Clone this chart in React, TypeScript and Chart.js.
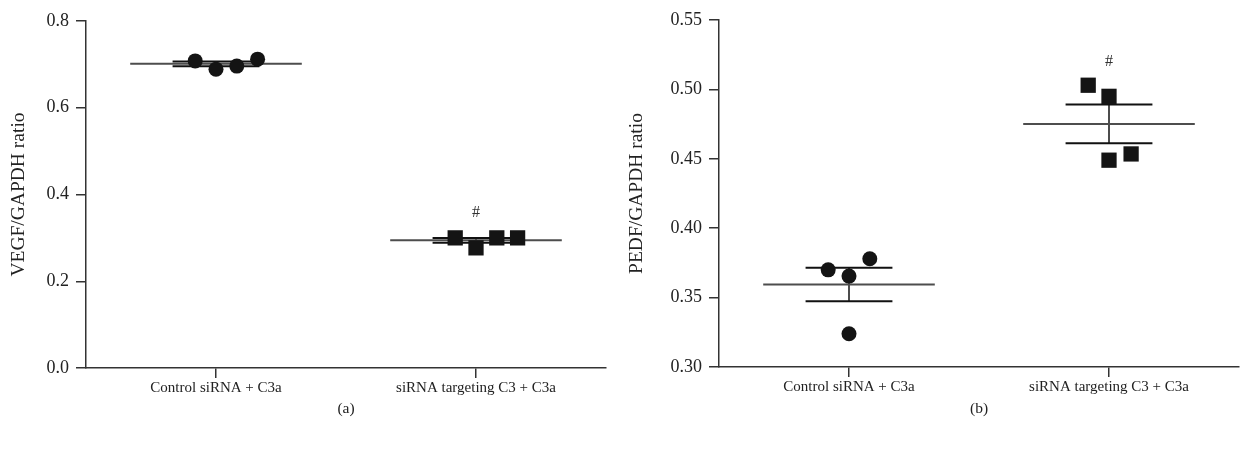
import React, { useEffect, useRef } from "react";
import { Chart, registerables } from "chart.js";

Chart.register(...registerables);

// ---------- data ----------
const categories = ["Control siRNA + C3a", "siRNA targeting C3 + C3a"];
const panelLetters = ["(a)", "(b)"];
const yTitles = ["VEGF/GAPDH ratio", "PEDF/GAPDH ratio"];

// Panel (a): VEGF/GAPDH
const vegfControl = [0.708, 0.689, 0.696, 0.712];
const vegfControlJitter = [-0.08, 0, 0.08, 0.16];
const vegfSiRNA = [0.3, 0.277, 0.3, 0.3];
const vegfSiRNAJitter = [-0.08, 0, 0.08, 0.16];
const vegfTicks = [0, 0.2, 0.4, 0.6, 0.8];
const vegfSignificance = [{ group: 2, y: 0.357, text: "#" }];

// Panel (b): PEDF/GAPDH
const pedfControl = [0.37, 0.3655, 0.378, 0.324];
const pedfControlJitter = [-0.08, 0, 0.08, 0];
const pedfSiRNA = [0.503, 0.495, 0.449, 0.4535];
const pedfSiRNAJitter = [-0.08, 0, 0, 0.085];
const pedfTicks = [0.3, 0.35, 0.4, 0.45, 0.5, 0.55];
const pedfSignificance = [{ group: 2, y: 0.52, text: "#" }];

// ---------- helpers ----------
const FONT = "'Liberation Serif', 'DejaVu Serif', serif";
const TICK_SIZE = 18;
const CAT_SIZE = 15;
const TITLE_SIZE = 19.5;
const LETTER_SIZE = 15.5;
const MEAN_HALF = 0.33;
const SEM_HALF = 0.167;

function mean(a: number[]) {
  return a.reduce((s, v) => s + v, 0) / a.length;
}
function sem(a: number[]) {
  const m = mean(a);
  const sd = Math.sqrt(a.reduce((s, v) => s + (v - m) * (v - m), 0) / (a.length - 1));
  return sd / Math.sqrt(a.length);
}

function groupDatasets(values: number[], jitter: number[], group: number, style: string, radius: number) {
  const m = mean(values);
  const e = sem(values);
  const line = (pts: { x: number; y: number }[], color: string, width: number) => ({
    data: pts,
    showLine: true,
    borderColor: color,
    borderWidth: width,
    pointRadius: 0,
    pointHoverRadius: 0,
    order: 2,
  });
  return [
    line([{ x: group - MEAN_HALF, y: m }, { x: group + MEAN_HALF, y: m }], "#4d4d4d", 2),
    line([{ x: group - SEM_HALF, y: m + e }, { x: group + SEM_HALF, y: m + e }], "#111", 2),
    line([{ x: group - SEM_HALF, y: m - e }, { x: group + SEM_HALF, y: m - e }], "#111", 2),
    line([{ x: group, y: m - e }, { x: group, y: m + e }], "#111", 1.5),
    {
      data: values.map((v, i) => ({ x: group + jitter[i], y: v })),
      showLine: false,
      pointStyle: style,
      pointRadius: radius,
      pointHoverRadius: radius,
      backgroundColor: "#141414",
      borderColor: "#141414",
      borderWidth: 0,
      order: 1,
    },
  ];
}

type PanelCfg = {
  datasets: any[];
  ticks: number[];
  decimals: number;
  yTitle: string;
  letter: string;
  marks: { group: number; y: number; text: string }[];
  yWidth: number;
  padRight: number;
  padTop: number;
  xHeight: number;
  yTitlePad: number;
};

const significancePlugin = {
  id: "significance",
  afterDatasetsDraw(chart: any, _args: any, opts: any) {
    const marks = opts && opts.marks ? opts.marks : [];
    const { ctx, scales } = chart;
    ctx.save();
    ctx.fillStyle = "#333";
    ctx.font = `16px ${FONT}`;
    ctx.textAlign = "center";
    ctx.textBaseline = "middle";
    marks.forEach((mk: any) => {
      ctx.fillText(mk.text, scales.x.getPixelForValue(mk.group), scales.y.getPixelForValue(mk.y));
    });
    ctx.restore();
  },
};

function Panel({ cfg }: { cfg: PanelCfg }) {
  const ref = useRef<HTMLCanvasElement | null>(null);
  useEffect(() => {
    if (!ref.current) return;
    const chart = new Chart(ref.current, {
      type: "scatter",
      data: { datasets: cfg.datasets },
      plugins: [significancePlugin],
      options: {
        animation: false,
        responsive: false,
        layout: {
          autoPadding: false,
          padding: { left: 0, right: cfg.padRight, top: cfg.padTop, bottom: 0 },
        },
        plugins: {
          legend: { display: false },
          tooltip: { enabled: false },
          significance: { marks: cfg.marks },
        } as any,
        scales: {
          x: {
            type: "linear",
            min: 0.5,
            max: 2.5,
            afterBuildTicks: (s: any) => {
              s.ticks = [{ value: 1 }, { value: 2 }];
            },
            afterFit: (s: any) => {
              s.height = cfg.xHeight;
              s.paddingLeft = 0;
              s.paddingRight = 0;
            },
            ticks: {
              callback: (v: any) => categories[Math.round(Number(v)) - 1],
              color: "#222",
              font: { family: FONT, size: CAT_SIZE },
              padding: 1,
              maxRotation: 0,
              autoSkip: false,
            },
            grid: { drawOnChartArea: false, drawTicks: true, tickLength: 10, color: "#333", lineWidth: 1.5 },
            border: { display: true, color: "#333", width: 1.5 },
            title: {
              display: true,
              text: cfg.letter,
              color: "#222",
              font: { family: FONT, size: LETTER_SIZE },
              padding: { top: 0, bottom: 31 },
            },
          },
          y: {
            type: "linear",
            min: cfg.ticks[0],
            max: cfg.ticks[cfg.ticks.length - 1],
            afterBuildTicks: (s: any) => {
              s.ticks = cfg.ticks.map((v) => ({ value: v }));
            },
            afterFit: (s: any) => {
              s.width = cfg.yWidth;
              s.paddingTop = 0;
              s.paddingBottom = 0;
            },
            ticks: {
              callback: (v: any) => Number(v).toFixed(cfg.decimals),
              color: "#222",
              font: { family: FONT, size: TICK_SIZE },
              padding: 7,
            },
            grid: { drawOnChartArea: false, drawTicks: true, tickLength: 10, color: "#333", lineWidth: 1.5 },
            border: { display: true, color: "#333", width: 1.5 },
            title: {
              display: true,
              text: cfg.yTitle,
              color: "#222",
              font: { family: FONT, size: TITLE_SIZE },
              padding: { top: cfg.yTitlePad, bottom: 0 },
            },
          },
        },
      } as any,
    });
    return () => chart.destroy();
  }, [cfg]);
  return <canvas ref={ref} width={622} height={449} style={{ display: "block", width: 622, height: 449 }} />;
}

const panelA: PanelCfg = {
  datasets: [
    ...groupDatasets(vegfControl, vegfControlJitter, 1, "circle", 7.5),
    ...groupDatasets(vegfSiRNA, vegfSiRNAJitter, 2, "rect", 10.8),
  ],
  ticks: vegfTicks,
  decimals: 1,
  yTitle: yTitles[0],
  letter: panelLetters[0],
  marks: vegfSignificance,
  yWidth: 86,
  padRight: 16,
  padTop: 21,
  xHeight: 81,
  yTitlePad: 7,
};

const panelB: PanelCfg = {
  datasets: [
    ...groupDatasets(pedfControl, pedfControlJitter, 1, "circle", 7.5),
    ...groupDatasets(pedfSiRNA, pedfSiRNAJitter, 2, "rect", 10.8),
  ],
  ticks: pedfTicks,
  decimals: 2,
  yTitle: yTitles[1],
  letter: panelLetters[1],
  marks: pedfSignificance,
  yWidth: 97,
  padRight: 5,
  padTop: 20,
  xHeight: 82,
  yTitlePad: 3,
};

export default function App() {
  return (
    <div style={{ position: "absolute", left: 0, top: 0, width: 1244, height: 449, display: "flex", background: "#fff" }}>
      <Panel cfg={panelA} />
      <Panel cfg={panelB} />
    </div>
  );
}
